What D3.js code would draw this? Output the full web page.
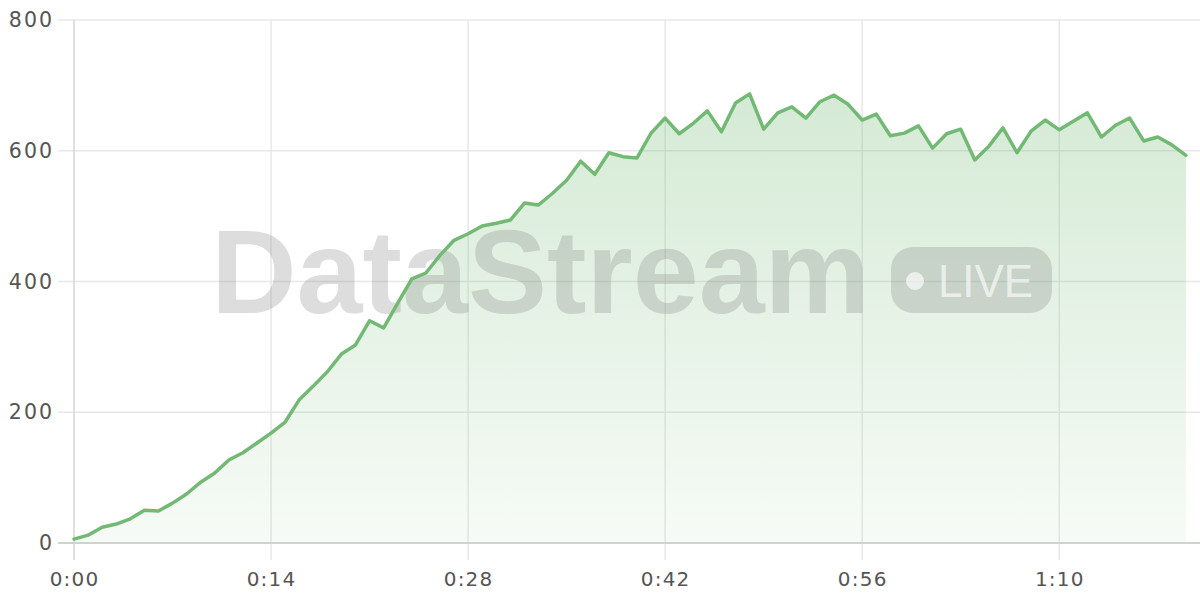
<!DOCTYPE html>
<html><head><meta charset="utf-8">
<script src="https://cdn.jsdelivr.net/npm/d3@7"></script>
<style>html,body{margin:0;padding:0;background:#fff;}svg{display:block;}</style>
</head><body>
<svg id="chart" width="1200" height="600"></svg>
<script>
const seconds = d3.range(0, 80);
const values = [6,12,24,29,37,50,49,61,75,93,107,127,138,153,168,185,219,240,262,289,
  303,340,329,367,404,413,440,463,473,485,489,494,520,517,535,555,584,564,597,591,
  589,627,650,626,642,661,629,673,687,633,658,667,650,675,685,671,647,656,623,627,
  638,604,626,633,586,607,635,597,630,647,632,645,658,621,639,650,615,621,609,593];
const xTicks = [0,14,28,42,56,70];
const yTicks = [0,200,400,600,800];
const data = seconds.map((s,i)=>({s, v: values[i]}));

const svg = d3.select("#chart");
const x = d3.scaleLinear().domain([0,80]).range([74,1200]);
const y = d3.scaleLinear().domain([0,800]).range([543,20]);
const fmt = s => Math.floor(s/60) + ":" + String(s%60).padStart(2,"0");
const font = "'DejaVu Sans', sans-serif";

const defs = svg.append("defs");
const grad = defs.append("linearGradient").attr("id","areaGrad")
  .attr("gradientUnits","userSpaceOnUse").attr("x1",0).attr("y1",y(800)).attr("x2",0).attr("y2",y(0));
grad.append("stop").attr("offset","0%").attr("stop-color","#72b974").attr("stop-opacity",0.34);
grad.append("stop").attr("offset","100%").attr("stop-color","#72b974").attr("stop-opacity",0.06);

// horizontal grid
svg.append("g").selectAll("line").data(yTicks.filter(d=>d>0)).join("line")
  .attr("x1",58).attr("x2",1200).attr("y1",d=>y(d)).attr("y2",d=>y(d))
  .attr("stroke","#e8e8e8").attr("stroke-width",1.5);
// vertical grid
svg.append("g").selectAll("line").data(xTicks.filter(d=>d>0)).join("line")
  .attr("x1",d=>x(d)).attr("x2",d=>x(d)).attr("y1",y(800)).attr("y2",560)
  .attr("stroke","#e8e8e8").attr("stroke-width",1.5);

// area
svg.append("path").datum(data)
  .attr("d", d3.area().x(d=>x(d.s)).y0(y(0)).y1(d=>y(d.v)))
  .attr("fill","url(#areaGrad)");

// axes lines
svg.append("line").attr("x1",x(0)).attr("x2",x(0)).attr("y1",y(800)).attr("y2",560)
  .attr("stroke","#d6d6d6").attr("stroke-width",1.5);
svg.append("line").attr("x1",58).attr("x2",1200).attr("y1",y(0)).attr("y2",y(0))
  .attr("stroke","#cfd3cf").attr("stroke-width",2);

// watermark
const wm = svg.append("g");
wm.append("text").attr("x",211).attr("y",313)
  .attr("font-family","'Liberation Sans', Arial, sans-serif").attr("font-weight","bold")
  .attr("font-size",118).attr("textLength",659).attr("lengthAdjust","spacingAndGlyphs")
  .attr("fill","#808080").attr("fill-opacity",0.27).text("DataStream");
wm.append("rect").attr("x",891).attr("y",247).attr("width",161).attr("height",66).attr("rx",22)
  .attr("fill","#808080").attr("fill-opacity",0.27);
wm.append("circle").attr("cx",915).attr("cy",281).attr("r",9).attr("fill","#fff").attr("fill-opacity",0.65);
wm.append("text").attr("x",938).attr("y",297)
  .attr("font-family","'Liberation Sans', Arial, sans-serif").attr("font-weight","500")
  .attr("font-size",46).attr("textLength",95).attr("lengthAdjust","spacingAndGlyphs")
  .attr("fill","#fff").attr("fill-opacity",0.65).text("LIVE");

// line
svg.append("path").datum(data)
  .attr("d", d3.line().x(d=>x(d.s)).y(d=>y(d.v)))
  .attr("fill","none").attr("stroke","#72b974").attr("stroke-width",3.5)
  .attr("stroke-linejoin","round").attr("stroke-linecap","round");

// y labels
const yAxis = d3.axisLeft(y).tickValues(yTicks).tickSize(0).tickPadding(0);
const gy = svg.append("g").attr("transform","translate(52,0)").call(yAxis);
gy.select(".domain").remove();
gy.selectAll("text").attr("font-family",font).attr("font-size",20.5).attr("fill","#555")
  .attr("letter-spacing","2px").attr("dx","2px");

// x labels
const xAxis = d3.axisBottom(x).tickValues(xTicks).tickFormat(fmt).tickSize(0).tickPadding(0);
const gx = svg.append("g").attr("transform","translate(0,572)").call(xAxis);
gx.select(".domain").remove();
gx.selectAll("text").attr("font-family",font).attr("font-size",20).attr("fill","#555")
  .attr("letter-spacing","1.2px").attr("dy","0.71em");
</script>
</body></html>
